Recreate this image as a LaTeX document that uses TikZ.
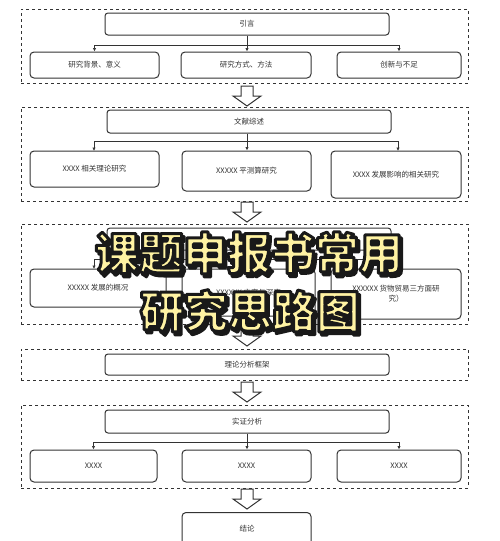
\documentclass[tikz,border=0pt]{standalone}
\usepackage{fontspec}
\setmainfont{Noto Sans CJK SC}
\usetikzlibrary{arrows.meta,calc}
\definecolor{boxline}{HTML}{333333}
\definecolor{titlefill}{HTML}{FFF3A3}
\definecolor{titleedge}{HTML}{1A1A1A}
\newcommand{\outlinedtext}[1]{\special{pdf:code q 2 Tr 3 w 0.1 0.1 0.1 RG 1 j}#1\special{pdf:code Q}}
\tikzset{
  frame/.style={draw=boxline, dashed, line width=0.7pt, inner sep=0pt},
  topbox/.style={draw=boxline, rounded corners=3pt, line width=1pt, inner sep=0pt, minimum width=284pt, font=\fontsize{7.5}{8}\selectfont, text=boxline},
  childbox/.style={draw=boxline, rounded corners=4pt, line width=1pt, inner sep=2pt, font=\fontsize{7.5}{10}\selectfont, text=boxline, align=center},
  conn/.style={draw=boxline, line width=0.7pt, -{Latex[length=3.5pt,width=3.5pt]}},
  bus/.style={draw=boxline, line width=0.7pt},
  hollowarr/.pic={\draw[boxline, line width=1pt, fill=white, line join=miter] (-6,0) -- (6,0) -- (6,10) -- (14,10) -- (0,20) -- (-14,10) -- (-6,10) -- cycle;},
  titlein/.style={text=titlefill, font=\fontsize{44}{48}\selectfont\bfseries, inner sep=0pt},
  titleshadow/.style={text=titleedge, font=\fontsize{44}{48}\selectfont\bfseries, inner sep=0pt}
}
\begin{document}
\begin{tikzpicture}[x=1pt,y=-1pt]
\useasboundingbox (0,0) rectangle (500,541);
\clip (0,0) rectangle (500,541);
\fill[white] (0,0) rectangle (500,541);
% ---- Section 1
\node[frame, minimum width=447pt, minimum height=74pt] (f1) at (244.5,46) {};
\node[topbox, minimum height=22pt] (t1) at (247,24) {引言};
\node[childbox, minimum width=129pt, minimum height=26pt] (c11) at (94.5,65) {研究背景、意义};
\node[childbox, minimum width=130pt, minimum height=26pt] (c12) at (246,65) {研究方式、方法};
\node[childbox, minimum width=124pt, minimum height=26pt] (c13) at (399,65) {创新与不足};
\coordinate (b1) at (247,45);
\draw[bus] (t1.south) -- (b1);
\draw[conn] (b1) -- (b1 |- c12.north);
\draw[conn] (b1) -| (c11.north);
\draw[conn] (b1) -| (c13.north);
\pic at (247,86) {hollowarr};
% ---- Section 2
\node[frame, minimum width=447pt, minimum height=94pt] (f2) at (244.5,154) {};
\node[topbox, minimum height=23pt] (t2) at (249,121.5) {文献综述};
\node[childbox, minimum width=129pt, minimum height=36pt] (c21) at (94.5,169) {XXXX 相关理论研究};
\node[childbox, minimum width=129pt, minimum height=40pt] (c22) at (246.5,171) {XXXXX 平测算研究};
\node[childbox, minimum width=130pt, minimum height=47pt] (c23) at (396,174.5) {XXXX 发展影响的相关研究};
\coordinate (b2) at (247,141);
\draw[bus] (t2.south -| b2) -- (b2);
\draw[conn] (b2) -- (b2 |- c22.north);
\draw[conn] (b2) -- (94,141) -- (94,151);
\draw[conn] (b2) -- (398,141) -- (398,151);
\pic at (247,202) {hollowarr};
% ---- Section 3
\node[frame, minimum width=447pt, minimum height=100pt] (f3) at (244.5,274) {};
\node[topbox, minimum height=22pt] (t3) at (249,239) {};
\node[childbox, minimum width=136pt, minimum height=38pt] (c31) at (98,288) {XXXXX 发展的概况};
\node[childbox, minimum width=133pt, minimum height=47pt] (c32) at (248.5,292.5) {XXXXXX 广度与深度};
\node[childbox, minimum width=130pt, minimum height=50pt] (c33) at (396,294) {XXXXXX 货物贸易三方面研\\究）};
\coordinate (b3) at (247,259);
\draw[bus] (t3.south -| b3) -- (b3);
\draw[conn] (b3) -- (b3 |- c32.north);
\draw[conn] (b3) -- (94,259) -- (94,269);
\draw[conn] (b3) -- (398,259) -- (398,269);
\pic at (247,326) {hollowarr};
% ---- Section 4
\node[frame, minimum width=447pt, minimum height=31pt] (f4) at (244.5,364.5) {};
\node[topbox, minimum height=21pt] (t4) at (247,364.5) {理论分析框架};
\pic at (247,382) {hollowarr};
% ---- Section 5
\node[frame, minimum width=447pt, minimum height=83pt] (f5) at (244.5,446.5) {};
\node[topbox, minimum height=23pt] (t5) at (247,421.5) {实证分析};
\node[childbox, minimum width=127pt, minimum height=32pt] (c51) at (93.5,466) {XXXX};
\node[childbox, minimum width=129pt, minimum height=32pt] (c52) at (246.5,466) {XXXX};
\node[childbox, minimum width=124pt, minimum height=32pt] (c53) at (399,466) {XXXX};
\coordinate (b5) at (247,442);
\draw[bus] (t5.south) -- (b5);
\draw[conn] (b5) -- (b5 |- c52.north);
\draw[conn] (b5) -| (c51.north);
\draw[conn] (b5) -| (c53.north);
\pic at (247,489) {hollowarr};
% ---- Conclusion
\node[childbox, minimum width=129pt, minimum height=48pt, anchor=north] (c6) at (246.5,512) {};
\node[font=\fontsize{7.5}{8}\selectfont, text=boxline, inner sep=0pt] (c6t) at (247,529) {结论};
% ---- Title overlay
\node[titleshadow] (tas) at (251.5,256) {\outlinedtext{课题申报书常用}};
\node[titleshadow] (tbs) at (252.5,314) {\outlinedtext{研究思路图}};
\node[titlein] (ta) at (249,253) {\outlinedtext{课题申报书常用}};
\node[titlein] (tb) at (250,311) {\outlinedtext{研究思路图}};
\end{tikzpicture}
\end{document}
